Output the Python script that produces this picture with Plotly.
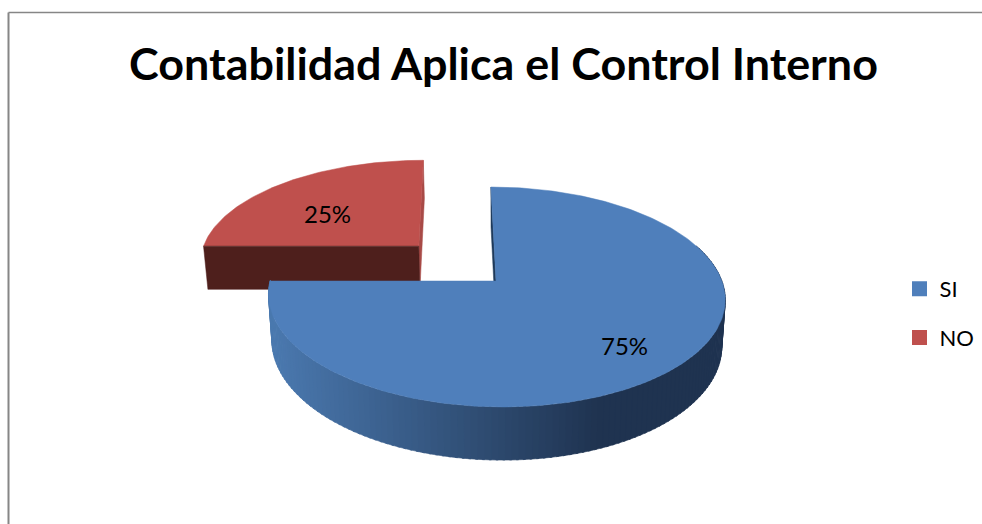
import math
import plotly.graph_objects as go

# --- data ---
title = "Contabilidad Aplica el Control Interno"
labels = ["SI", "NO"]
values = [75, 25]
top_colors = ["#4f7fbb", "#bf504d"]
face_colors = ["#1f3a5a", "#4e1f1c"]
explode_x = [0.0, 0.35]
explode_y = [0.0, 0.34]

# --- perspective of the tilted disc (styling of the projection, not data) ---
CX, CY, R, H, D, SK, DEPTH, SHRINK = 496, 281, 1553, 740, 6.875, -40, 312, 0.985


def project(X, Y, z=0):
    s = 1 / (D + Y)
    px = CX + (R * X + SK * Y) * s
    py = CY - H * Y * s
    if z:
        px = CX + (px - CX) * SHRINK
        py += DEPTH * s
    return px, py


def rim(deg, ox, oy, z=0, r=1.0):
    a = math.radians(deg)
    return project(-ox + r * math.sin(a), oy + r * math.cos(a), z)


def arc(a0, a1, ox, oy, z=0, step=1.0):
    n = max(2, int(abs(a1 - a0) / step))
    return [rim(a0 + (a1 - a0) * i / n, ox, oy, z) for i in range(n + 1)]


def poly(pts, color, width=0.5):
    return go.Scatter(
        x=[p[0] for p in pts] + [pts[0][0]],
        y=[p[1] for p in pts] + [pts[0][1]],
        mode="lines", fill="toself", fillcolor=color,
        line=dict(color=color, width=width),
        hoverinfo="skip", showlegend=False,
    )


def mix(x):
    # side wall shade runs left to right across the picture
    c0, c1 = (74, 120, 174), (31, 51, 80)
    t = min(1, max(0, (x - 275) / (600 - 275)))
    return "rgb(%d,%d,%d)" % tuple(round(a + (b - a) * t) for a, b in zip(c0, c1))


total = sum(values)
start_blue, end_blue = 0.0, 360.0 * values[0] / total
start_red, end_red = end_blue, 360.0

fig = go.Figure()

# exploded NO slice
ox, oy = explode_x[1], explode_y[1]
apex_top = project(-ox, oy)
apex_bot = project(-ox, oy, 1)
fig.add_trace(poly([rim(360, ox, oy), rim(360, ox, oy, 1), apex_bot, apex_top], "#a84a47"))
fig.add_trace(poly(arc(start_red, end_red, ox, oy) + [apex_top], top_colors[1]))
fig.add_trace(poly([rim(start_red, ox, oy), rim(start_red, ox, oy, 1), apex_bot, apex_top], face_colors[1]))

# SI slice: inner cut face, outer wall strips, then the top
apex = project(0, 0)
fig.add_trace(poly([rim(0, 0, 0), rim(0, 0, 0, 1), project(0, 0, 1), apex], face_colors[0]))
deg = 70.0
while deg < end_blue:
    nxt = min(deg + 1.5, end_blue)
    pts = arc(deg, nxt + 0.5, 0, 0) + arc(nxt + 0.5, deg, 0, 0, 1)
    fig.add_trace(poly(pts, mix(rim((deg + nxt) / 2, 0, 0)[0]), 0.6))
    deg = nxt
fig.add_trace(poly(arc(start_blue, end_blue, 0, 0) + [apex], top_colors[0]))

# legend entries
for name, color in zip(labels, top_colors):
    fig.add_trace(go.Scatter(
        x=[None], y=[None], mode="markers", name=name, legendgroup=name,
        marker=dict(symbol="square", size=15, color=color),
    ))

pct_pos = [(0.51, -0.553), (-0.803, 0.69)]
annotations = []
for v, (X, Y) in zip(values, pct_pos):
    px, py = project(X, Y)
    annotations.append(dict(x=px, y=py, xref="x", yref="y", text=f"{v}%", showarrow=False,
                            font=dict(family="Lato", size=24, color="#000000")))

W, H_PX = 982, 524
fig.update_layout(
    width=W, height=H_PX,
    margin=dict(l=0, r=0, t=0, b=0),
    paper_bgcolor="#ffffff", plot_bgcolor="#ffffff",
    title=dict(text=f"<b>{title}</b>", x=503.5 / W, xanchor="center", y=1 - 64 / H_PX, yanchor="middle",
               font=dict(family="Lato", size=44.85, color="#000000")),
    xaxis=dict(range=[0, W], visible=False, fixedrange=True),
    yaxis=dict(range=[H_PX, 0], visible=False, fixedrange=True),
    legend=dict(x=899.5 / W, xanchor="left", y=1 - 268 / H_PX, yanchor="top",
                font=dict(family="Lato", size=22, color="#000000"),
                tracegroupgap=17, bgcolor="rgba(0,0,0,0)"),
    annotations=annotations,
    shapes=[
        dict(type="line", xref="x", yref="y", x0=8.5, x1=8.5, y0=12.5, y1=524, line=dict(color="#868686", width=2)),
        dict(type="line", xref="x", yref="y", x0=8.5, x1=982, y0=12.5, y1=12.5, line=dict(color="#868686", width=1.5)),
    ],
)
fig.write_html("out.html", config=dict(displayModeBar=False),
               post_script="document.body.style.margin='0';document.body.style.overflow='hidden';")
